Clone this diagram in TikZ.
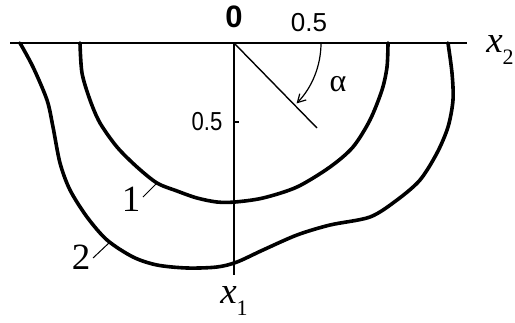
\documentclass[tikz,border=0pt]{standalone}
\usepackage{fontspec}
\setmainfont{Liberation Serif}
\newfontfamily\numfont{Liberation Sans}
\usetikzlibrary{arrows.meta}
\begin{document}
\begin{tikzpicture}[x=1pt,y=-1pt,
  curve/.style={line width=3.6pt,line join=round,line cap=round},
  thinline/.style={line width=1.4pt},
  lbl/.style={inner sep=0pt,outer sep=0pt},
  numlbl/.style={lbl,font=\numfont\fontsize{26}{26}\selectfont},
  serlbl/.style={lbl,font=\fontsize{37}{37}\selectfont}]
\useasboundingbox (0,0) rectangle (515,322);
\fill[white] (0,0) rectangle (515,322);
% axes
\coordinate (O) at (234,43);
\coordinate (hl) at (10,43);
\coordinate (hr) at (467,43);
\coordinate (vb) at (234,275);
\draw[line width=2.8pt] (hl) -- (hr);
\draw[thinline] (O) -- (vb);
\coordinate (tk1) at (234,122);
\coordinate (tk2) at (239,122);
\draw[line width=1.6pt] (tk1) -- (tk2);
% diagonal and angle
\coordinate (dend) at (317,128);
\draw[thinline] (O) -- (dend);
\coordinate (astart) at (321,43);
\draw[line width=1.2pt,-{Straight Barb[length=8pt,width=9pt]}] (astart) arc[start angle=0,end angle=-44,radius=87pt];
% labels
\node[lbl,font=\numfont\bfseries\fontsize{31}{31}\selectfont] (l0) at (234,17) {0};
\node[numlbl] (l05a) at (309,23) {0.5};
\node[numlbl,xscale=0.85] (l05b) at (207,122) {0.5};
\node[lbl,font=\fontsize{32}{32}\selectfont] (al) at (338,84) {α};
\node[serlbl] (x2) at (500,50) {\textit{x}\raisebox{-0.3em}{\fontsize{22}{22}\selectfont 2}};
\node[serlbl] (x1) at (234,301) {\textit{x}\raisebox{-0.3em}{\fontsize{22}{22}\selectfont 1}};
% curve 1
\draw[curve] plot[smooth,tension=0.5] coordinates {(80,43) (82,73) (90,100) (100,123) (117,147) (137,167) (157,183) (177,191) (197,198) (217,202) (235,202) (263,198) (297,187) (330,167) (353,147) (370,120) (382,90) (387,67) (388,43)};
% curve 2
\draw[curve] plot[smooth,tension=0.5] coordinates {(20,43) (33,67) (47,100) (53,127) (60,163) (70,190) (87,217) (107,240) (133,257) (157,265) (187,268) (217,267) (237,262) (263,250) (297,235) (330,225) (370,217) (397,200) (420,180) (437,153) (448,127) (453,100) (452,73) (448,43)};
% curve labels
\node[serlbl] (c1) at (131,199) {1};
\node[serlbl] (c2) at (81,257) {2};
\coordinate (c1a) at (143,197);
\coordinate (c1b) at (157,183);
\coordinate (c2a) at (93,258);
\coordinate (c2b) at (110,242);
\draw[line width=1pt] (c1a) -- (c1b);
\draw[line width=1pt] (c2a) -- (c2b);
\end{tikzpicture}
\end{document}
